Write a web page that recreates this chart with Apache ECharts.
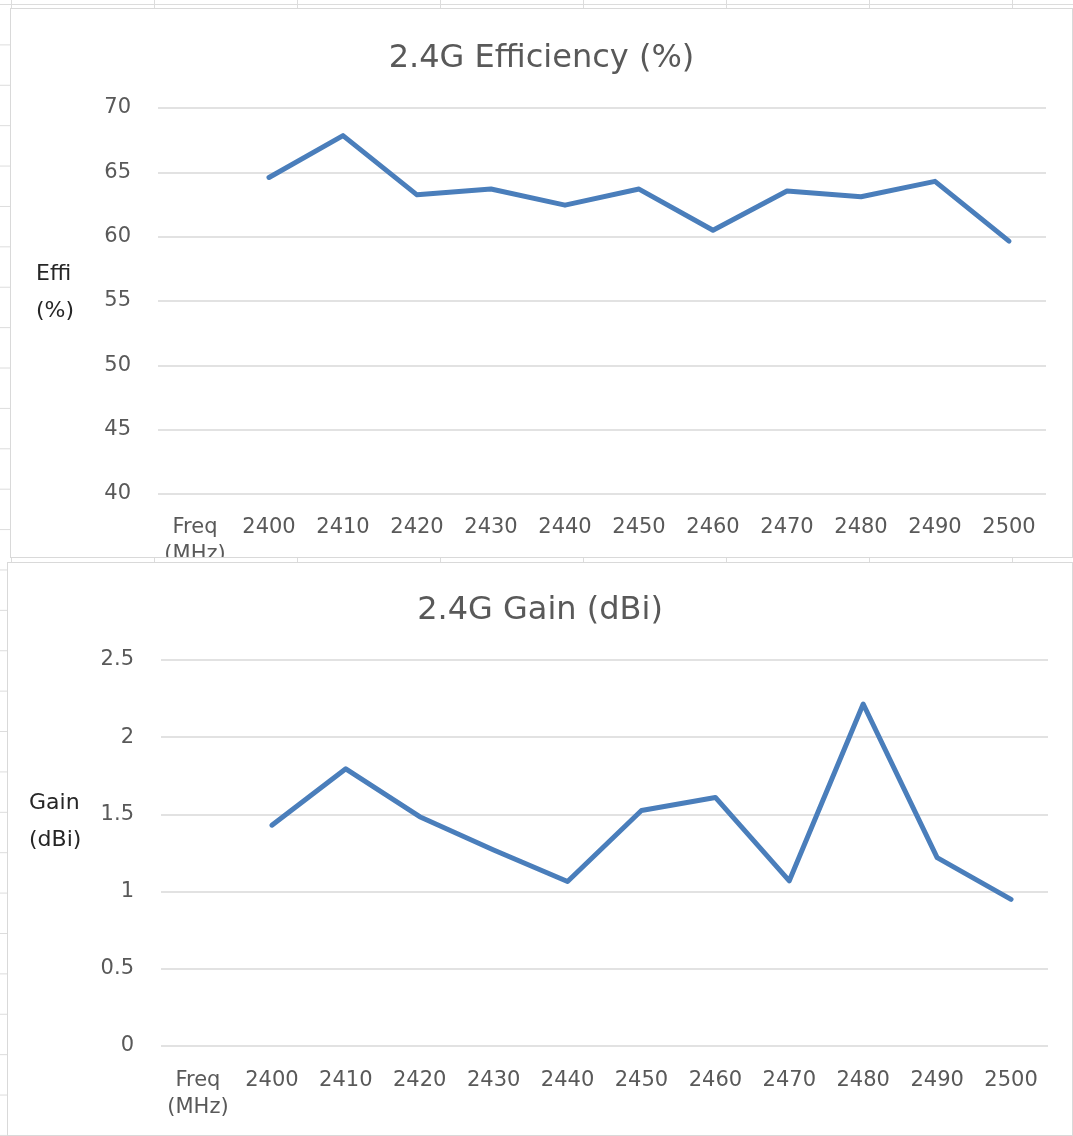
<!DOCTYPE html>
<html>
<head>
<meta charset="utf-8">
<script src="https://cdn.jsdelivr.net/npm/echarts@6/dist/echarts.min.js"></script>
<style>
  html, body { margin: 0; padding: 0; }
  body {
    width: 1073px; height: 1136px; position: relative; overflow: hidden;
    background-color: #fff;
    background-image:
      linear-gradient(to right, #dcdcdc 1px, transparent 1px),
      linear-gradient(to bottom, #dcdcdc 1px, transparent 1px);
    background-size: 143px 40.4px;
    background-position: 11px 4px;
  }
  .box { position: absolute; background: #fff; border: 1px solid #d9d9d9; box-sizing: border-box; }
</style>
</head>
<body>
<div id="c1" class="box" style="left:10px;top:8px;width:1063px;height:550px;"></div>
<div id="c2" class="box" style="left:7px;top:562px;width:1066px;height:574px;"></div>
<script>
// 频率（第一个类目是坐标轴说明，无数据）
var freqLabels = ['Freq\n(MHz)', '2400', '2410', '2420', '2430', '2440', '2450', '2460', '2470', '2480', '2490', '2500'];
// 效率 %
var effiValues = ['-', 64.6, 67.85, 63.25, 63.7, 62.45, 63.7, 60.5, 63.55, 63.1, 64.3, 59.65];
// 增益 dBi
var gainValues = ['-', 1.43, 1.795, 1.485, 1.27, 1.065, 1.525, 1.61, 1.07, 2.215, 1.22, 0.95];

var FONT = '"DejaVu Sans", "Open Sans", sans-serif';
var GRAY = '#595959';

function makeOption(title, titleTop, yName, grid, yMin, yMax, yStep, data, nameX, nameY, lblMargin) {
	grid.outerBoundsMode = 'none'; // 不自动收缩，让标签被裁掉
	return {
		animation: false,
		title: {
			text: title,
			left: 'center',
			top: titleTop,
			textStyle: { fontFamily: FONT, fontSize: 32, fontWeight: 'normal', color: GRAY }
		},
		grid: grid,
		graphic: [{
			type: 'text',
			left: nameX,
			top: nameY,
			style: { text: yName, font: '22px ' + FONT, fill: '#262626', lineHeight: 37 }
		}],
		xAxis: {
			type: 'category',
			data: freqLabels,
			boundaryGap: true,
			axisLine: { show: false },
			axisTick: { show: false },
			axisLabel: { fontFamily: FONT, fontSize: 21, color: GRAY, margin: lblMargin, lineHeight: 27, interval: 0 }
		},
		yAxis: {
			type: 'value',
			min: yMin,
			max: yMax,
			interval: yStep,
			axisLine: { show: false },
			axisTick: { show: false },
			axisLabel: { fontFamily: FONT, fontSize: 21, color: GRAY, margin: 27 },
			splitLine: { lineStyle: { color: '#d9d9d9', width: 1.5 } }
		},
		series: [{
			type: 'line',
			data: data,
			symbol: 'none',
			lineStyle: { color: '#4a7ebb', width: 5, cap: 'round', join: 'round' }
		}]
	};
}

var chart1 = echarts.init(document.getElementById('c1'));
chart1.setOption(makeOption('2.4G Efficiency (%)', 29, 'Effi\n(%)',
	{ left: 147, right: 26, top: 99, height: 386 }, 40, 70, 5, effiValues, 25, 247, 20));

var chart2 = echarts.init(document.getElementById('c2'));
chart2.setOption(makeOption('2.4G Gain (dBi)', 27, 'Gain\n(dBi)',
	{ left: 153, right: 24, top: 97, height: 386 }, 0, 2.5, 0.5, gainValues, 21, 222, 21));
</script>
</body>
</html>
